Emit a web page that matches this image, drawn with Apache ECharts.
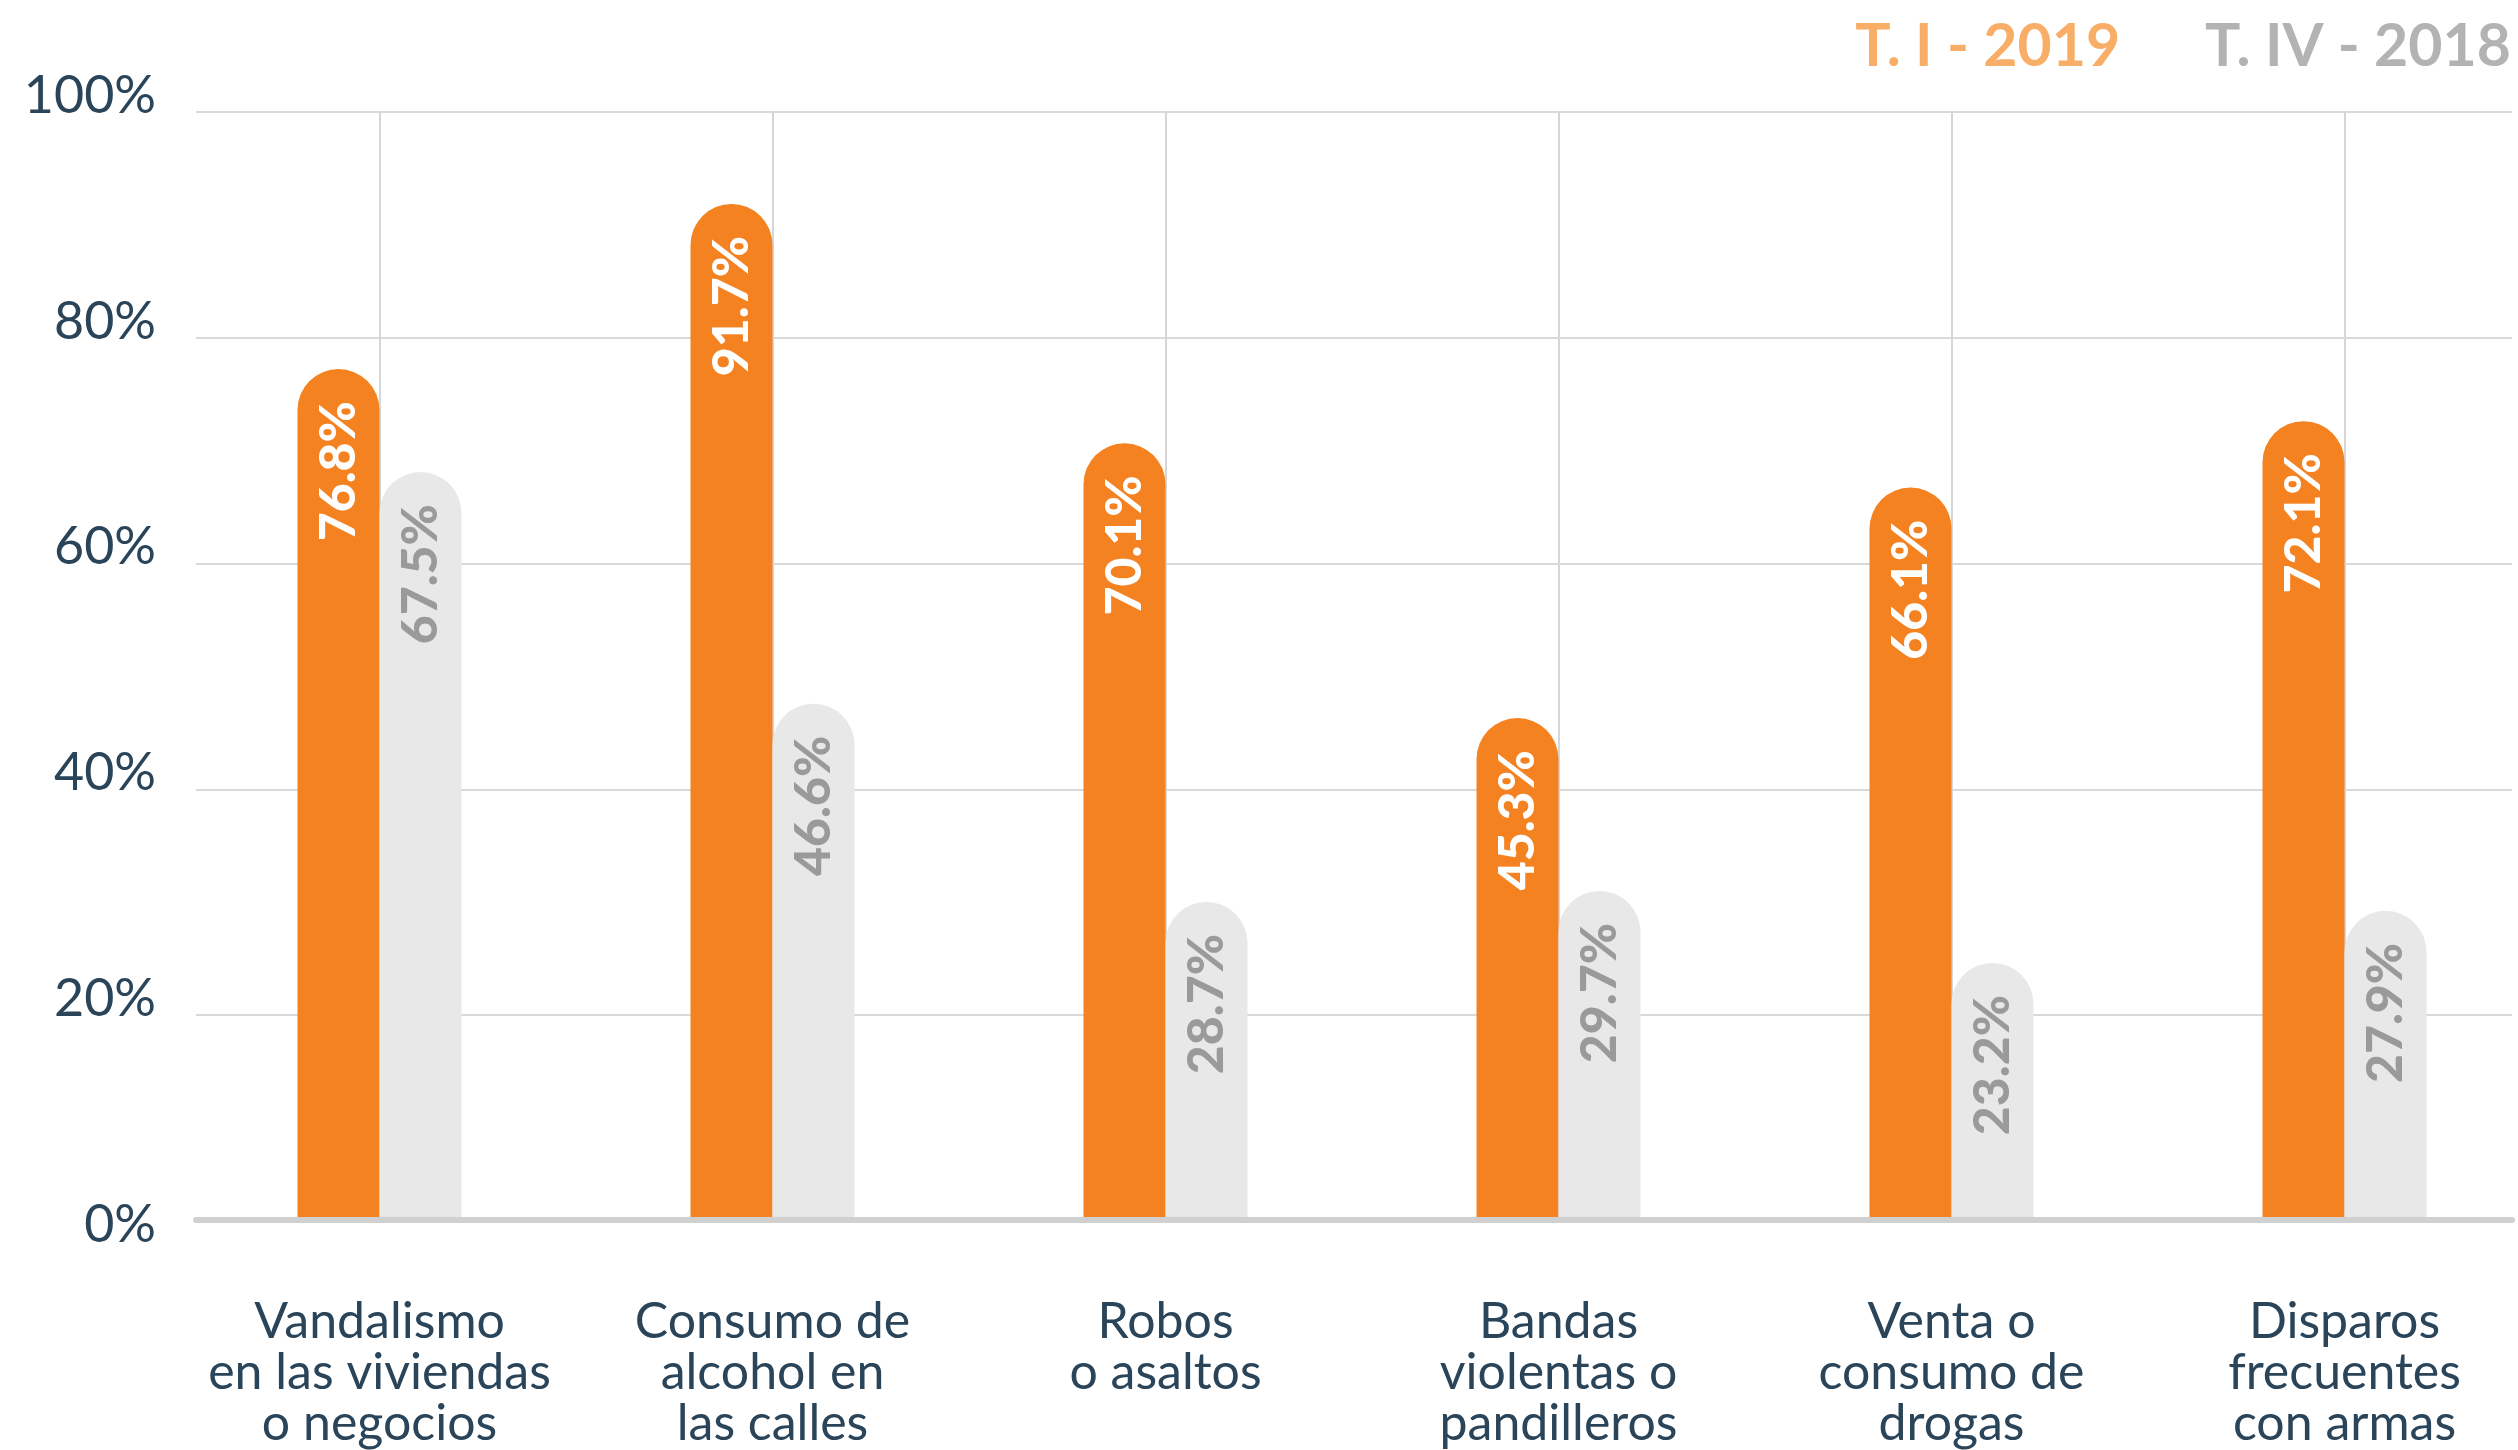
<!DOCTYPE html>
<html>
<head>
<meta charset="utf-8">
<script src="https://cdn.jsdelivr.net/npm/echarts@6/dist/echarts.min.js"></script>
<style>
html,body{margin:0;padding:0;background:#fff;}
#chart{width:2518px;height:1450px;}
</style>
</head>
<body>
<div id="chart"></div>
<script>
const categories = [
  "Vandalismo\nen las viviendas\no negocios",
  "Consumo de\nalcohol en\nlas calles",
  "Robos\no asaltos",
  "Bandas\nviolentas o\npandilleros",
  "Venta o\nconsumo de\ndrogas",
  "Disparos\nfrecuentes\ncon armas"
];
const seriesNames = ["T. I - 2019", "T. IV - 2018"];
const valuesT1_2019 = [76.8, 91.7, 70.1, 45.3, 66.1, 72.1];
const valuesT4_2018 = [67.5, 46.6, 28.7, 29.7, 23.2, 27.9];
const yTicks = [0, 20, 40, 60, 80, 100];

const chart = echarts.init(document.getElementById('chart'), null, {renderer: 'canvas'});
const FONT = 'Lato';
const navy = '#2a4459';

function barLabel(color) {
  return {
    show: true,
    position: 'insideTop',
    distance: 32,
    rotate: 90,
    align: 'right',
    verticalAlign: 'middle',
    fontFamily: FONT,
    fontWeight: 900,
    fontSize: 50,
    color: color,
    formatter: p => p.value.toFixed(1) + '%'
  };
}

chart.setOption({
  animation: false,
  backgroundColor: '#ffffff',
  legend: {
    right: 2,
    top: 12,
    icon: 'none',
    itemWidth: 0,
    itemHeight: 0,
    itemGap: 80,
    textStyle: {fontFamily: FONT, fontWeight: 'bold', fontSize: 59},
    data: [
      {name: seriesNames[0], textStyle: {color: '#f9ae68'}},
      {name: seriesNames[1], textStyle: {color: '#b3b3b3'}}
    ]
  },
  grid: [
    // bars + category labels + vertical lines
    {left: 183, width: 2358, top: 112, bottom: 230, containLabel: false, outerBoundsMode: 'none'},
    // horizontal grid lines, y labels and baseline
    {left: 196, right: 6, top: 112, bottom: 209, containLabel: false, outerBoundsMode: 'none'}
  ],
  xAxis: [
    {
      type: 'category',
      gridIndex: 0,
      data: categories,
      axisTick: {show: false},
      axisLine: {show: false},
      splitLine: {show: true, alignWithLabel: true, lineStyle: {color: '#d6d6d6', width: 2}},
      axisLabel: {
        margin: 76,
        fontFamily: FONT,
        fontSize: 50,
        lineHeight: 51,
        color: navy,
        align: 'center',
        verticalAlign: 'top',
        interval: 0
      }
    },
    {
      type: 'category',
      gridIndex: 1,
      data: categories,
      offset: -21,
      axisTick: {show: false},
      axisLabel: {show: false},
      splitLine: {show: false},
      axisLine: {show: true, onZero: false, lineStyle: {color: '#d0d0d0', width: 6, cap: 'round'}},
      z: 5
    }
  ],
  yAxis: [
    {
      type: 'value',
      gridIndex: 0,
      min: yTicks[0],
      max: yTicks[yTicks.length - 1],
      interval: 20,
      axisLine: {show: false},
      axisTick: {show: false},
      axisLabel: {show: false},
      splitLine: {show: false}
    },
    {
      type: 'value',
      gridIndex: 1,
      min: yTicks[0],
      max: yTicks[yTicks.length - 1],
      interval: 20,
      axisLine: {show: false},
      axisTick: {show: false},
      splitLine: {show: true, showMinLine: false, lineStyle: {color: '#d9d9d9', width: 2}},
      axisLabel: {
        margin: 40,
        fontFamily: FONT,
        fontSize: 52,
        color: navy,
        verticalAlign: 'middle',
        rich: {a: {fontFamily: FONT, fontSize: 52, color: navy, padding: [0, 0, 32, 0]}},
        formatter: v => '{a|' + v + '%}'
      }
    }
  ],
  series: [
    {
      name: seriesNames[0],
      type: 'bar',
      xAxisIndex: 0,
      yAxisIndex: 0,
      data: valuesT1_2019,
      barWidth: 82,
      barGap: '0%',
      itemStyle: {color: '#f58220', borderRadius: [41, 41, 0, 0]},
      label: barLabel('#ffffff'),
      z: 3
    },
    {
      name: seriesNames[1],
      type: 'bar',
      xAxisIndex: 0,
      yAxisIndex: 0,
      data: valuesT4_2018,
      barWidth: 82,
      barGap: '0%',
      itemStyle: {color: '#e8e8e8', borderRadius: [41, 41, 0, 0]},
      label: barLabel('#9a9a9a'),
      z: 3
    }
  ]
});
</script>
</body>
</html>
